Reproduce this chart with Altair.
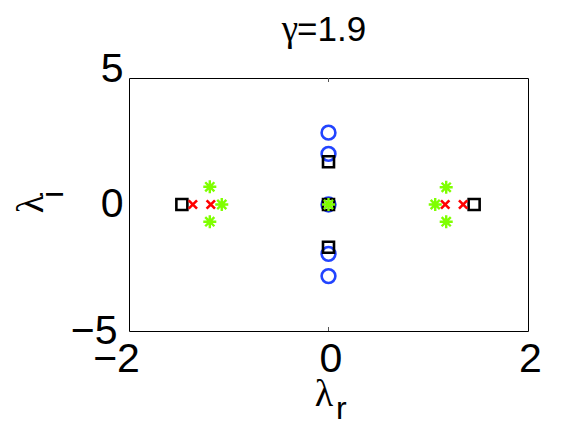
import altair as alt
import pandas as pd

# Eigenvalue spectrum (lambda_r, lambda_i)
circle_x = [0.0, 0.0, 0.0, 0.0, 0.0]
circle_y = [2.84, 2.0, 0.0, -1.95, -2.83]

square_x = [-1.47, 0.0, 0.0, 0.0, 1.46]
square_y = [0.0, 1.69, 0.0, -1.69, 0.0]

cross_x = [-1.36, -1.18, 1.17, 1.35]
cross_y = [0.0, 0.0, 0.0, 0.0]

star_x = [-1.19, -1.07, -1.19, 0.0, 1.07, 1.18, 1.18]
star_y = [0.70, 0.0, -0.68, 0.0, 0.0, 0.68, -0.68]

x_ticks = [-2, 0, 2]
y_ticks = [-5, 0, 5]
title_sym = "γ"
title_val = "=1.9"

FONT = "Liberation Sans"
SERIF = "Liberation Serif"
W, H = 399, 253

df_c = pd.DataFrame({"x": circle_x, "y": circle_y})
df_s = pd.DataFrame({"x": square_x, "y": square_y})
df_x = pd.DataFrame({"x": cross_x, "y": cross_y})
df_a = pd.DataFrame({"x": star_x, "y": star_y})

xs = alt.Scale(domain=[-2, 2], nice=False, zero=False)
ys = alt.Scale(domain=[-5, 5], nice=False, zero=False)

xax = alt.Axis(values=x_ticks, title=None, domain=False, ticks=False, grid=False,
               labelFont=FONT, labelFontSize=41, labelColor="black", labelPadding=8,
               labelFlush=False, labelOverlap=False,
               labelOffset={"condition": {"test": "datum.value < 0", "value": -13}, "value": 2},
               format="d")
yax = alt.Axis(values=y_ticks, title=None, domain=False, ticks=False, grid=False,
               labelFont=FONT, labelFontSize=41, labelColor="black",
               labelFlush=False, labelOverlap=False,
               labelPadding={"condition": {"test": "datum.value < 0", "value": 12}, "value": 6},
               labelOffset={"condition": {"test": "datum.value > 0", "value": -9}, "value": 0},
               format="d")

X = alt.X("x:Q", scale=xs, axis=xax)
Y = alt.Y("y:Q", scale=ys, axis=yax)

circles = alt.Chart(df_c).mark_point(shape="circle", filled=False, size=190, opacity=1,
                                     strokeWidth=2.6, color="#2244ff").encode(x=X, y=Y)
squares = alt.Chart(df_s).mark_point(shape="square", filled=False, size=121, opacity=1,
                                     strokeWidth=2.6, color="black").encode(x=X, y=Y)
crosses = alt.Chart(df_x).mark_point(shape="M-1,-1L1,1M-1,1L1,-1", filled=False, size=70,
                                     opacity=1, strokeWidth=2.6, color="#ff0000").encode(x=X, y=Y)
stars = alt.Chart(df_a).mark_point(
    shape="M-1,0L1,0M0,-1L0,1M-0.7,-0.7L0.7,0.7M-0.7,0.7L0.7,-0.7",
    filled=False, size=170, opacity=1, strokeWidth=2.4, color="#7fff00").encode(x=X, y=Y)

# small inward ticks at 0 on the box
tick_df = pd.DataFrame({"x": [0], "y": [0]})
tick_top = alt.Chart(tick_df).mark_rule(color="#555", strokeWidth=1).encode(
    x=alt.X("x:Q", scale=xs), y=alt.value(0), y2=alt.value(4))
tick_bot = alt.Chart(tick_df).mark_rule(color="#555", strokeWidth=1).encode(
    x=alt.X("x:Q", scale=xs), y=alt.value(H), y2=alt.value(H - 4))

txt = pd.DataFrame({"g": [title_sym], "v": [title_val]})
title_g = alt.Chart(txt).mark_text(font=SERIF, fontSize=37, align="right",
                                   baseline="alphabetic", color="black").encode(
    x=alt.value(169), y=alt.value(-37), text="g:N")
title_v = alt.Chart(txt).mark_text(font=FONT, fontSize=35, align="left",
                                   baseline="alphabetic", color="black").encode(
    x=alt.value(168), y=alt.value(-37), text="v:N")

lab = pd.DataFrame({"a": ["λ"], "b": ["r"], "c": ["i"]})
lam_r = alt.Chart(lab).mark_text(font=SERIF, fontSize=38, align="center",
                                 baseline="alphabetic", color="black").encode(
    x=alt.value(195), y=alt.value(328), text="a:N")
sub_r = alt.Chart(lab).mark_text(font=FONT, fontSize=32, align="left",
                                 baseline="alphabetic", color="black").encode(
    x=alt.value(207), y=alt.value(341), text="b:N")
lam_i = alt.Chart(lab).mark_text(font=SERIF, fontSize=38, align="center", angle=270,
                                 baseline="alphabetic", color="black").encode(
    x=alt.value(-86), y=alt.value(126), text="a:N")
sub_i = alt.Chart(lab).mark_text(font=FONT, fontSize=32, align="left", angle=270,
                                 baseline="alphabetic", color="black").encode(
    x=alt.value(-66), y=alt.value(120), text="c:N")

chart = alt.layer(circles, squares, crosses, stars, tick_top, tick_bot,
                  title_g, title_v, lam_r, sub_r, lam_i, sub_i).properties(
    width=W, height=H,
    autosize=alt.AutoSizeParams(type="none"),
    padding={"left": 121, "top": 70, "right": 40, "bottom": 100},
    background="white",
).configure_view(stroke="black", strokeWidth=1)

chart.save("out.html", embed_options={"renderer": "svg", "actions": False})
